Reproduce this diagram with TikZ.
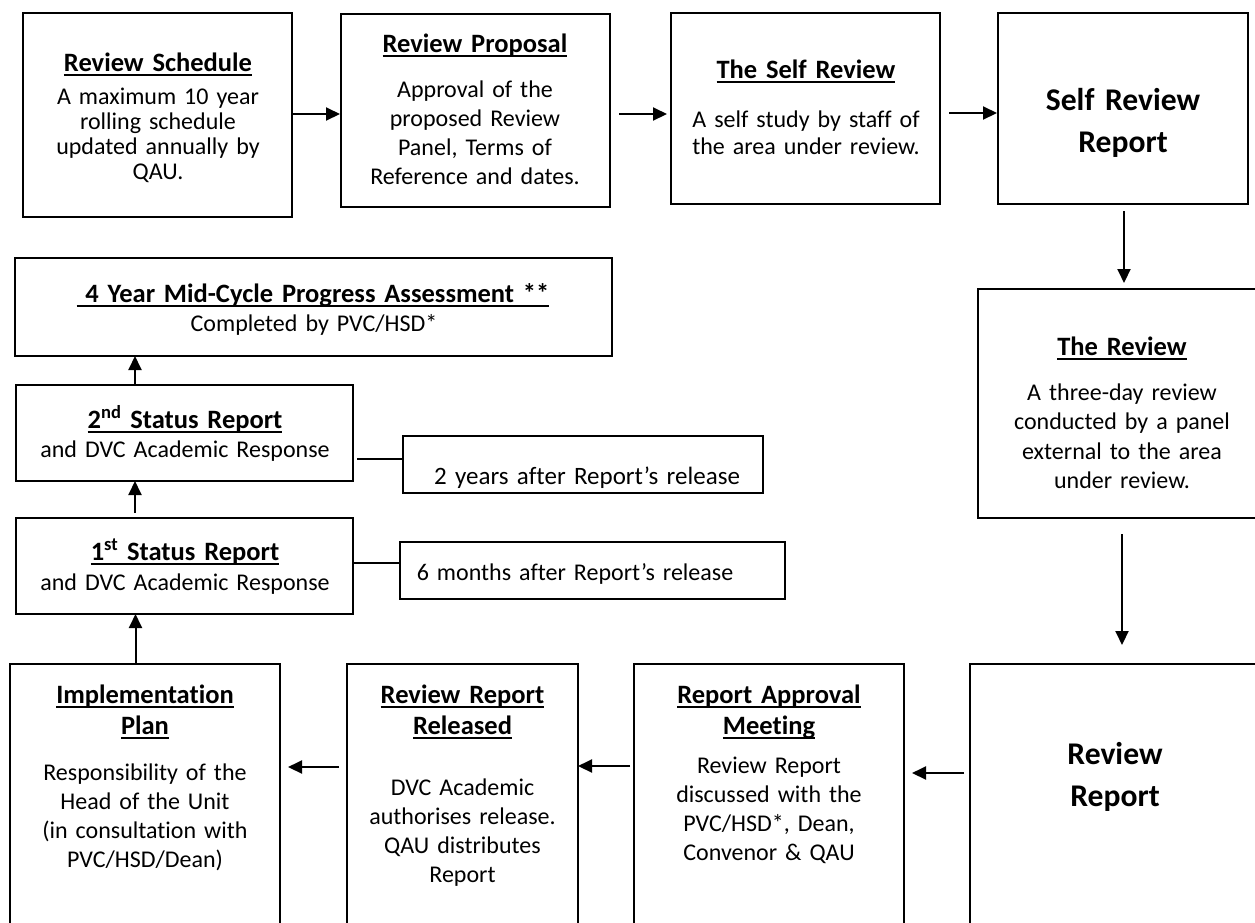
\documentclass[tikz,border=0pt]{standalone}
\usepackage{fontspec}
\setmainfont{Carlito}[Ligatures={NoCommon}, WordSpace=0.75]
\usetikzlibrary{arrows.meta,calc}
\newcommand\ttl[1]{\leavevmode\setbox0\hbox{#1}\rlap{\rule[-0.19em]{\wd0}{0.075em}}\box0}
\tikzset{
  box/.style={draw, line width=2pt, rectangle, inner sep=0pt, outer sep=0pt, anchor=north west},
  txt/.style={anchor=base, text width=620pt, align=center, inner sep=0pt},
  body/.style={txt, font=\fontsize{24}{29}\selectfont},
  ttlf/.style={txt, font=\fontsize{26.5}{31}\selectfont\bfseries},
  big/.style={txt, font=\fontsize{31.6}{42}\selectfont\bfseries},
  arr/.style={line width=2pt, -{Triangle[length=14pt,width=13pt]}},
  ln/.style={line width=2pt}
}
\begin{document}
\begin{tikzpicture}[x=1pt,y=-1pt]
\path[use as bounding box] (0,0) rectangle (1255,922);
\clip (0,0) rectangle (1255,922);
\fill[white] (0,0) rectangle (1255,922);
% boxes
\node[box, minimum width=269pt, minimum height=204pt] (b1) at (23,13) {};
\node[box, minimum width=269pt, minimum height=193pt] (b2) at (341,14) {};
\node[box, minimum width=269pt, minimum height=191pt] (b3) at (671,13) {};
\node[box, minimum width=250pt, minimum height=191pt] (b4) at (998,13) {};
\node[box, minimum width=597pt, minimum height=98pt] (m4) at (15,258) {};
\node[box, minimum width=337pt, minimum height=96pt] (s2) at (16,385) {};
\node[box, minimum width=337pt, minimum height=96pt] (s1) at (16,518) {};
\node[box, minimum width=360pt, minimum height=57pt] (y2) at (403,436) {};
\node[box, minimum width=385pt, minimum height=57pt] (m6) at (400,542) {};
\node[box, minimum width=288pt, minimum height=229pt] (rev) at (978,289) {};
\node[box, minimum width=270pt, minimum height=300pt] (impl) at (10,664) {};
\node[box, minimum width=231pt, minimum height=300pt] (rel) at (347,664) {};
\node[box, minimum width=270pt, minimum height=300pt] (appr) at (634,664) {};
\node[box, minimum width=290pt, minimum height=300pt] (rr) at (970,664) {};
% texts
\node[ttlf] (b1t) at (158,71) {\ttl{Review Schedule}};
\node[body, font=\fontsize{24}{25}\selectfont] (b1b) at (158,104) {A maximum 10 year\\rolling schedule\\updated annually by\\QAU.};
\node[ttlf] (b2t) at (475,52) {\ttl{Review Proposal}};
\node[body] (b2b) at (475,97) {Approval of the\\proposed Review\\Panel, Terms of\\Reference and dates.};
\node[ttlf] (b3t) at (806,78) {\ttl{The Self Review}};
\node[body, font=\fontsize{24}{27}\selectfont] (b3b) at (806,127) {A self study by staff of\\the area under review.};
\node[big] (b4t) at (1123,110) {Self Review\\Report};
\node[ttlf] (m4t) at (313,302) {\ttl{\ 4 Year Mid-Cycle Progress Assessment **}};
\node[body] (m4b) at (314,331) {Completed by PVC/HSD*};
\node[ttlf] (s2t) at (185,428) {\ttl{2\textsuperscript{nd} Status Report}};
\node[body] (s2b) at (185,457) {and DVC Academic Response};
\node[ttlf] (s1t) at (185,560) {\ttl{1\textsuperscript{st} Status Report}};
\node[body] (s1b) at (185,590) {and DVC Academic Response};
\node[body, font=\fontsize{25}{29}\selectfont] (y2t) at (587,484) {2 years after Report’s release};
\node[body] (m6t) at (575,580) {6 months after Report’s release};
\node[ttlf] (revt) at (1122,355) {\ttl{The Review}};
\node[body, font=\fontsize{24}{29.5}\selectfont] (revb) at (1122,400) {A three-day review\\conducted by a panel\\external to the area\\under review.};
\node[big] (rrt) at (1115,764) {Review\\Report};
\node[ttlf] (apprt) at (769,703) {\ttl{Report Approval}\\\ttl{Meeting}};
\node[body] (apprb) at (769,773) {Review Report\\discussed with the\\PVC/HSD*, Dean,\\Convenor \& QAU};
\node[ttlf] (relt) at (462.5,703) {\ttl{Review Report}\\\ttl{Released}};
\node[body] (relb) at (462.5,795) {DVC Academic\\authorises release.\\QAU distributes\\Report};
\node[ttlf] (implt) at (145,703) {\ttl{Implementation}\\\ttl{Plan}};
\node[body] (implb) at (145,780) {Responsibility of the\\Head of the Unit\\(in consultation with\\PVC/HSD/Dean)};
% connectors
\draw[arr] ($(b1.east)+(0,-1)$) -- ($(b1.east -| b2.west)+(-1,-1)$);
\draw[arr] ($(b2.east)+(9,3.5)$) -- ($(b2.east -| b3.west)+(-4,3.5)$);
\draw[arr] ($(b3.east)+(9,4.5)$) -- ($(b3.east -| b4.west)+(-1,4.5)$);
\draw[arr] ($(b4.south)+(1,7)$) -- ($(b4.south |- rev.north)+(1,-6)$);
\draw[arr] ($(rev.south west)+(144,16)$) -- ($(rev.south west |- rr.north)+(144,-19)$);
\draw[arr] ($(rr.north west)+(-6,109)$) -- ($(appr.north east)+(8,109)$);
\draw[arr] ($(appr.north west)+(-4,102)$) -- ($(rel.north east)+(0,102)$);
\draw[arr] ($(rel.north west)+(-8,103)$) -- ($(impl.north east)+(8,103)$);
\draw[arr] ($(impl.north west)+(125.5,0)$) -- ($(s1.south west)+(119.5,0)$);
\draw[arr] ($(s1.north west)+(119,-5)$) -- ($(s2.south west)+(119,0)$);
\draw[arr] ($(s2.north west)+(119,0)$) -- ($(m4.south west)+(120,0)$);
\draw[ln] ($(s2.north east)+(4,73.5)$) -- ($(y2.north west)+(0,22.5)$);
\draw[ln] ($(s1.north east)+(0,45)$) -- ($(m6.north west)+(0,21)$);
\end{tikzpicture}
\end{document}
